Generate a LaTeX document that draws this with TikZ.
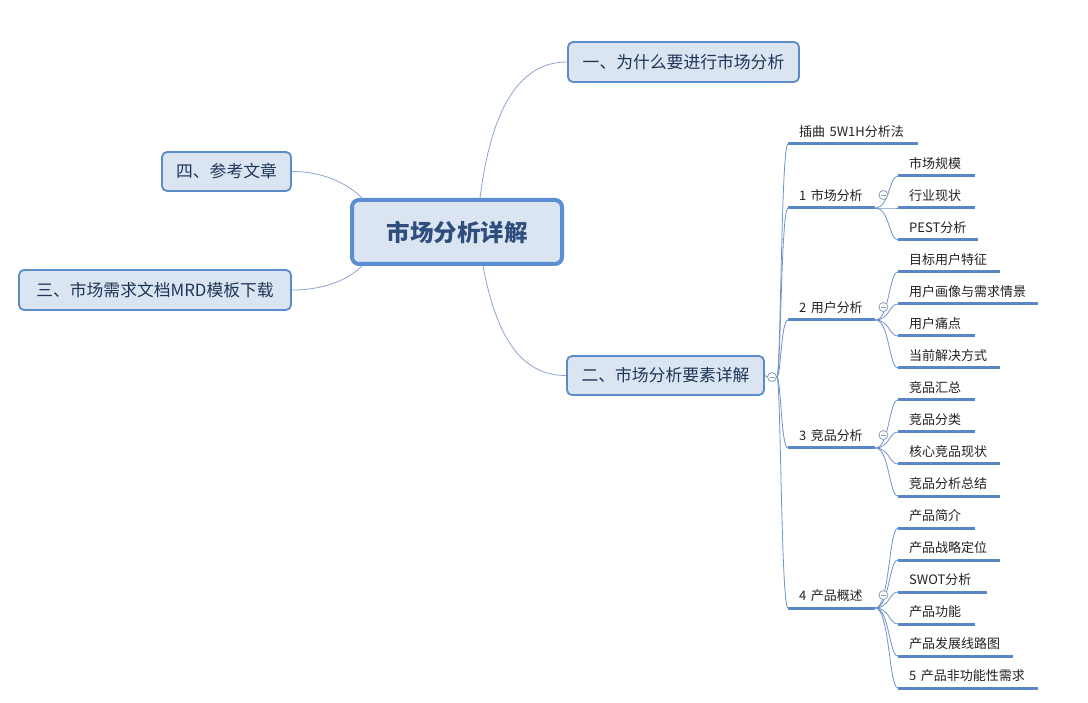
\documentclass[tikz,border=0pt]{standalone}
\usepackage{fontspec}
\setmainfont{Noto Sans CJK SC}
\definecolor{boxfill}{HTML}{DBE5F2}
\definecolor{boxline}{HTML}{5B8BC9}
\definecolor{rootline}{HTML}{5B8DD2}
\definecolor{ulc}{HTML}{5A87C5}
\definecolor{conn}{HTML}{8CA6CE}
\definecolor{tconn}{HTML}{6F93C8}
\definecolor{boxtxt}{HTML}{1F3558}
\definecolor{maintxt}{HTML}{2F4E7E}
\definecolor{subtxt}{HTML}{222222}
\definecolor{colc}{HTML}{8A9DBA}
\tikzset{
  rootbox/.style={draw=rootline, line width=4pt, fill=boxfill, rounded corners=7pt,
    minimum width=210pt, minimum height=64pt, inner sep=0pt,
    font=\fontsize{23.5}{27}\selectfont\bfseries, text=maintxt},
  mainbox/.style={draw=boxline, line width=1.8pt, fill=boxfill, rounded corners=5pt,
    minimum height=40pt, inner sep=0pt, font=\fontsize{16.8}{20}\selectfont, text=boxtxt},
  lvl/.style={anchor=south west, inner xsep=11pt, inner ysep=4pt, text height=10pt,
    text depth=3pt, align=left, font=\fontsize{13}{15}\selectfont, text=subtxt},
  ul/.style={draw=ulc, line width=3pt},
  conn/.style={draw=conn, line width=0.8pt},
  tconn/.style={draw=tconn, line width=0.8pt},
  collapse/.style={circle, draw=colc, fill=white, line width=0.8pt, minimum size=9pt, inner sep=0pt,
    path picture={\draw[colc, line width=0.7pt] ([xshift=-2.5pt]path picture bounding box.center) -- ([xshift=2.5pt]path picture bounding box.center);}}
}
\begin{document}
\begin{tikzpicture}[x=1pt,y=-1pt]
\useasboundingbox[fill=white] (0,0) rectangle (1088,703);

% main nodes
\node[rootbox] (root) at (457,232) {市场分析详解};
\node[mainbox, minimum width=231pt] (a1) at (683.5,62) {一、为什么要进行市场分析};
\node[mainbox, minimum width=197pt, minimum height=39pt] (a2) at (665.5,375.5) {二、市场分析要素详解};
\node[mainbox, minimum width=272pt] (a3) at (155,290) {三、市场需求文档MRD模板下载};
\node[mainbox, minimum width=129pt, minimum height=39pt] (a4) at (226.5,171.5) {四、参考文章};

% central connectors
\draw[conn] ([xshift=23pt]root.north) .. controls +(12,-95) and +(-45,0) .. (a1.west);
\draw[conn] ([xshift=26pt]root.south) .. controls +(15,80) and +(-40,0) .. (a2.west);
\draw[conn] ([xshift=-95pt]root.north) .. controls +(-12,-12) and +(35,0) .. (a4.east);
\draw[conn] ([xshift=-95pt]root.south) .. controls +(-12,12) and +(35,0) .. (a3.east);

% collapse of node two
\node[collapse] (c2) at (772,377) {};
\draw[tconn] (a2.east) -- (c2.west);

% level 2 items
\node[lvl, text width=108pt] (i0) at (788,144) {\mbox{插曲 5W1H分析法}};
\node[lvl, text width=65pt] (i1) at (788,208) {\mbox{1 市场分析}};
\node[lvl, text width=65pt] (i2) at (788,320) {\mbox{2 用户分析}};
\node[lvl, text width=65pt] (i3) at (788,448) {\mbox{3 竞品分析}};
\node[lvl, text width=65pt] (i4) at (788,608) {\mbox{4 产品概述}};

% level 3 items
\node[lvl, text width=55pt] (j11) at (898,176) {市场规模};
\node[lvl, text width=55pt] (j12) at (898,208) {行业现状};
\node[lvl, text width=58pt] (j13) at (898,240) {PEST分析};

\node[lvl, text width=80pt] (j21) at (898,272) {目标用户特征};
\node[lvl, text width=118pt] (j22) at (898,304) {用户画像与需求情景};
\node[lvl, text width=55pt] (j23) at (898,336) {用户痛点};
\node[lvl, text width=80pt] (j24) at (898,368) {当前解决方式};

\node[lvl, text width=55pt] (j31) at (898,400) {竞品汇总};
\node[lvl, text width=55pt] (j32) at (898,432) {竞品分类};
\node[lvl, text width=80pt] (j33) at (898,464) {核心竞品现状};
\node[lvl, text width=80pt] (j34) at (898,496) {竞品分析总结};

\node[lvl, text width=55pt] (j41) at (898,528) {产品简介};
\node[lvl, text width=80pt] (j42) at (898,560) {产品战略定位};
\node[lvl, text width=67pt] (j43) at (898,592) {SWOT分析};
\node[lvl, text width=55pt] (j44) at (898,624) {产品功能};
\node[lvl, text width=93pt] (j45) at (898,656) {产品发展线路图};
\node[lvl, text width=118pt] (j46) at (898,688) {\mbox{5 产品非功能性需求}};

% spine from node two to level 2
\foreach \n in {i0,i1,i2,i3,i4}{
  \draw[tconn] (c2.east) .. controls +(4,0) and +(-7,0) .. (\n.south west);
}

% level 3 connectors
\foreach \p/\cs in {i1/{j11,j12,j13}, i2/{j21,j22,j23,j24}, i3/{j31,j32,j33,j34}, i4/{j41,j42,j43,j44,j45,j46}}{
  \foreach \c in \cs {
    \draw[tconn] (\p.south east) .. controls +(14,0) and +(-9,0) .. (\c.south west);
  }
}

% underlines
\foreach \n in {i0,i1,i2,i3,i4,j11,j12,j13,j21,j22,j23,j24,j31,j32,j33,j34,j41,j42,j43,j44,j45,j46}{
  \draw[ul] (\n.south west) -- (\n.south east);
}

% collapse circles
\node[collapse] (c11) at ([xshift=8pt,yshift=13pt]i1.south east) {};
\node[collapse] (c21) at ([xshift=8pt,yshift=13pt]i2.south east) {};
\node[collapse] (c31) at ([xshift=8pt,yshift=13pt]i3.south east) {};
\node[collapse] (c41) at ([xshift=8pt,yshift=13pt]i4.south east) {};
\end{tikzpicture}
\end{document}
